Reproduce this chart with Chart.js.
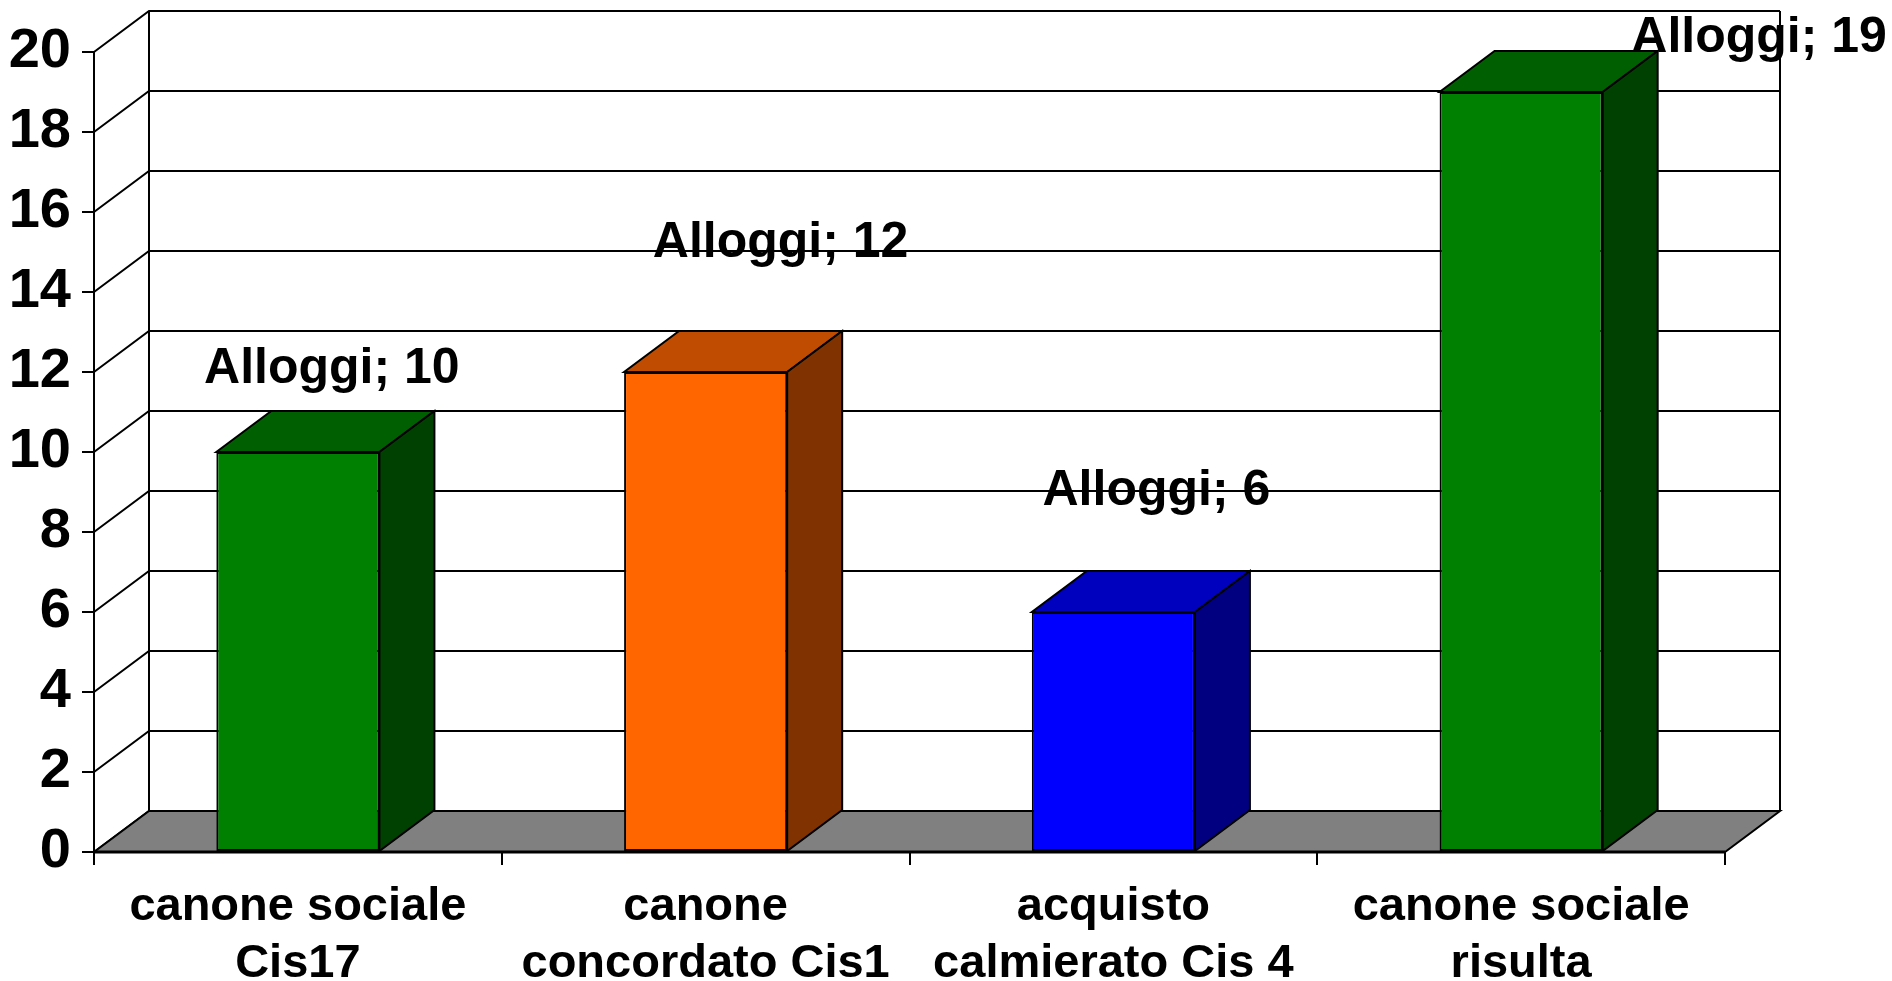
<!DOCTYPE html>
<html>
<head>
<meta charset="utf-8">
<title>Alloggi</title>
<script src="https://cdn.jsdelivr.net/npm/chart.js@4.4.1/dist/chart.umd.min.js"></script>
<style>
  html, body { margin: 0; padding: 0; background: #ffffff; overflow: hidden; }
  canvas { display: block; }
</style>
</head>
<body>
<canvas id="chart" width="1892" height="981"></canvas>
<script>
// Categories (two-line labels) and values
const categories = [
  ['canone sociale', 'Cis17'],
  ['canone', 'concordato Cis1'],
  ['acquisto', 'calmierato Cis 4'],
  ['canone sociale', 'risulta']
];
const seriesName = 'Alloggi';
const alloggi = [10, 12, 6, 19];
const yMin = 0;
const yMax = 20;
const yStep = 2;

// Face colours of each box: front, top, side
const frontColors = ['#008000', '#FF6600', '#0000FF', '#008000'];
const topColors   = ['#005F00', '#BF4C00', '#0000BF', '#005F00'];
const sideColors  = ['#004000', '#803300', '#000080', '#004000'];

// Depth of the 3D projection, in pixels
const DEPTH_X = 55;
const DEPTH_Y = 41;

// Where each value label sits relative to the top-centre of its box
const labelShift = [[34, -69], [75, -115], [43, -107], [238, -40]];

const FONT = "'Liberation Sans', Arial, Helvetica, sans-serif";

const box3d = {
  id: 'box3d',
  beforeDatasetsDraw(chart) {
    const { ctx, chartArea, scales } = chart;
    const { left: L, right: R, top: T, bottom: B } = chartArea;
    const y = scales.y;
    ctx.save();
    ctx.strokeStyle = '#000';
    ctx.lineWidth = 2;
    // Gridlines on the back wall plus the matching diagonals of the side wall
    y.ticks.forEach(t => {
      const py = y.getPixelForValue(t.value);
      ctx.beginPath();
      ctx.moveTo(L, py);
      ctx.lineTo(L + DEPTH_X, py - DEPTH_Y);
      ctx.lineTo(R + DEPTH_X, py - DEPTH_Y);
      ctx.stroke();
    });
    // Back wall edges
    ctx.beginPath();
    ctx.moveTo(L + DEPTH_X, T - DEPTH_Y);
    ctx.lineTo(L + DEPTH_X, B - DEPTH_Y);
    ctx.moveTo(R + DEPTH_X, T - DEPTH_Y);
    ctx.lineTo(R + DEPTH_X, B - DEPTH_Y);
    ctx.stroke();
    // Floor
    ctx.beginPath();
    ctx.moveTo(L, B);
    ctx.lineTo(R, B);
    ctx.lineTo(R + DEPTH_X, B - DEPTH_Y);
    ctx.lineTo(L + DEPTH_X, B - DEPTH_Y);
    ctx.closePath();
    ctx.fillStyle = '#808080';
    ctx.fill();
    ctx.lineWidth = 2;
    ctx.stroke();
    ctx.beginPath();
    ctx.lineWidth = 3;
    ctx.moveTo(L, B);
    ctx.lineTo(R, B);
    ctx.stroke();
    ctx.restore();
  },
  afterDatasetsDraw(chart) {
    const { ctx } = chart;
    const meta = chart.getDatasetMeta(0);
    const values = chart.data.datasets[0].data;
    ctx.save();
    ctx.strokeStyle = '#000';
    ctx.lineWidth = 2;
    ctx.lineJoin = 'miter';
    meta.data.forEach((bar, i) => {
      const half = bar.width / 2;
      const l = bar.x - half;
      const r = bar.x + half;
      const top = bar.y;
      const base = bar.base;
      // top face
      ctx.beginPath();
      ctx.moveTo(l, top);
      ctx.lineTo(r, top);
      ctx.lineTo(r + DEPTH_X, top - DEPTH_Y);
      ctx.lineTo(l + DEPTH_X, top - DEPTH_Y);
      ctx.closePath();
      ctx.fillStyle = topColors[i];
      ctx.fill();
      ctx.stroke();
      // side face
      ctx.beginPath();
      ctx.moveTo(r, top);
      ctx.lineTo(r + DEPTH_X, top - DEPTH_Y);
      ctx.lineTo(r + DEPTH_X, base - DEPTH_Y);
      ctx.lineTo(r, base);
      ctx.closePath();
      ctx.fillStyle = sideColors[i];
      ctx.fill();
      ctx.stroke();
    });
    // value labels
    ctx.fillStyle = '#000';
    ctx.font = 'bold 50px ' + FONT;
    ctx.textAlign = 'center';
    ctx.textBaseline = 'alphabetic';
    meta.data.forEach((bar, i) => {
      const [sx, sy] = labelShift[i];
      ctx.fillText(seriesName + '; ' + values[i], bar.x + sx, bar.y + sy);
    });
    ctx.restore();
  }
};

Chart.defaults.font.family = FONT;
Chart.defaults.color = '#000';

new Chart(document.getElementById('chart'), {
  type: 'bar',
  data: {
    labels: categories,
    datasets: [{
      label: seriesName,
      data: alloggi,
      backgroundColor: frontColors,
      borderColor: '#000',
      borderWidth: 2,
      borderSkipped: false,
      barPercentage: 0.4,
      categoryPercentage: 1.0
    }]
  },
  options: {
    responsive: false,
    animation: false,
    devicePixelRatio: 1,
    layout: { padding: { left: 0, top: 52, right: 167, bottom: 0 } },
    plugins: {
      legend: { display: false },
      tooltip: { enabled: false }
    },
    scales: {
      x: {
        grid: {
          offset: true,
          drawOnChartArea: false,
          drawTicks: true,
          tickLength: 13,
          color: '#000',
          lineWidth: 2
        },
        border: { display: true, color: '#000', width: 2 },
        ticks: {
          font: { size: 47, weight: 'bold', lineHeight: 1.22 },
          color: '#000',
          padding: 13,
          maxRotation: 0,
          minRotation: 0,
          autoSkip: false
        },
        afterFit(scale) { scale.height = 129; }
      },
      y: {
        min: yMin,
        max: yMax,
        grid: {
          drawOnChartArea: false,
          drawTicks: true,
          tickLength: 12,
          color: '#000',
          lineWidth: 2
        },
        border: { display: true, color: '#000', width: 2 },
        ticks: {
          stepSize: yStep,
          font: { size: 56, weight: 'bold' },
          color: '#000',
          padding: 11
        },
        afterFit(scale) { scale.width = 94; }
      }
    }
  },
  plugins: [box3d]
});
</script>
</body>
</html>
